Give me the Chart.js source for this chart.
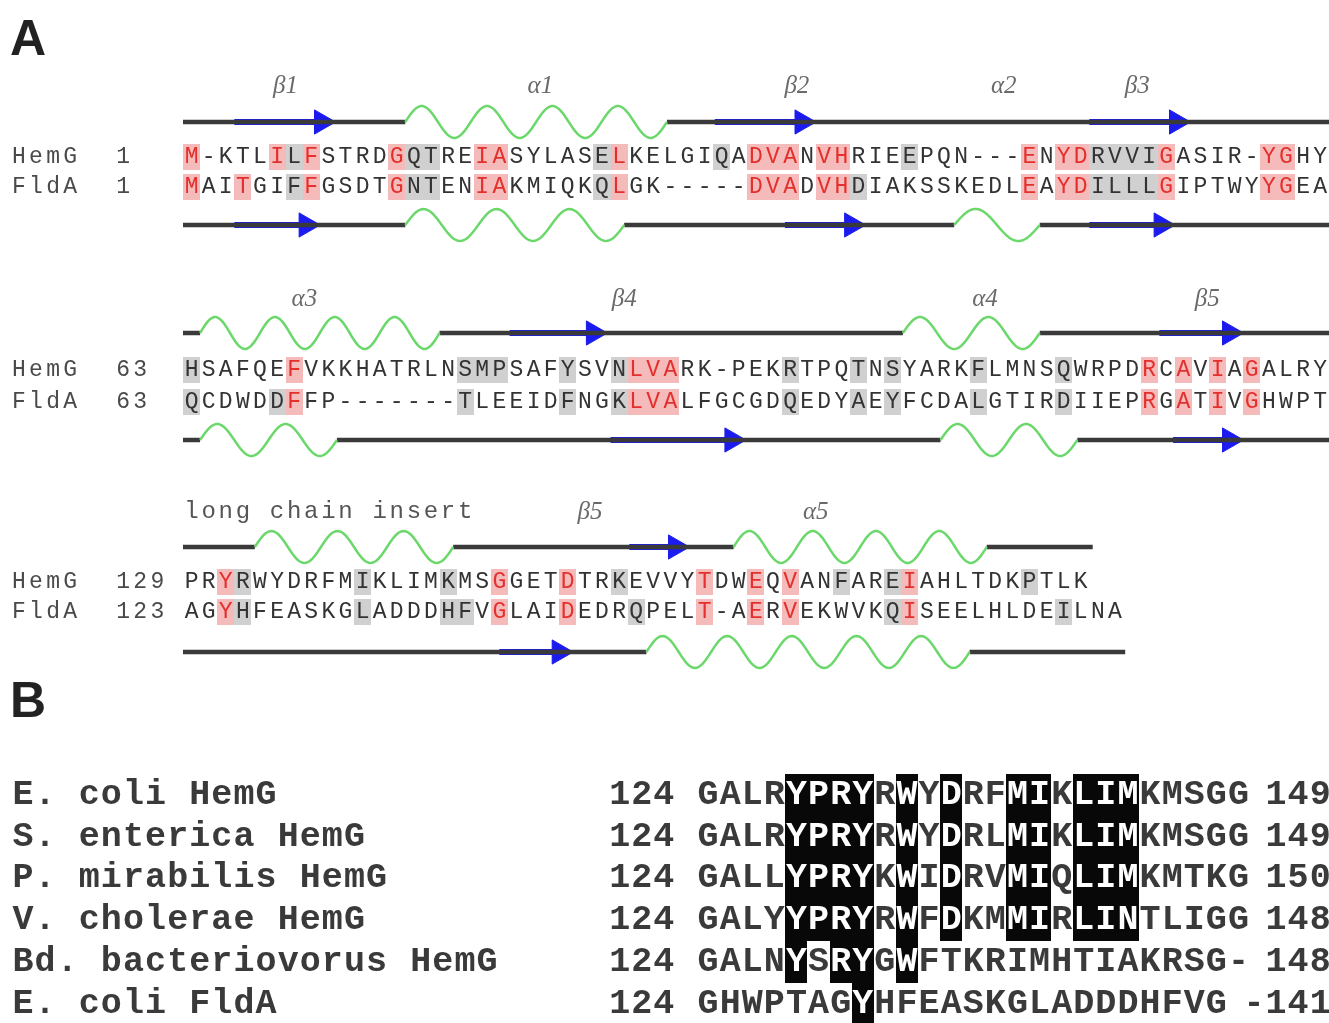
<!DOCTYPE html>
<html>
<head>
<meta charset="utf-8">
<script src="https://cdn.jsdelivr.net/npm/chart.js@4.4.1/dist/chart.umd.min.js"></script>
<style>
  html, body { margin: 0; padding: 0; background: #fff; }
  #wrap { width: 1329px; height: 1023px; }
  #fig { filter: blur(0.5px); }
</style>
</head>
<body>
<div id="wrap"><canvas id="fig"></canvas></div>
<script>
// ---- Panel A: HemG / FldA alignment, three blocks ----
const hemgSeq = [
    'M-KTLILFSTRDGQTREIASYLASELKELGIQADVANVHRIEEPQN---ENYDRVVIGASIR-YGHY',
    'HSAFQEFVKKHATRLNSMPSAFYSVNLVARK-PEKRTPQTNSYARKFLMNSQWRPDRCAVIAGALRY',
    'PRYRWYDRFMIKLIMKMSGGETDTRKEVVYTDWEQVANFAREIAHLTDKPTLK'
];
const fldaSeq = [
    'MAITGIFFGSDTGNTENIAKMIQKQLGK-----DVADVHDIAKSSKEDLEAYDILLLGIPTWYYGEA',
    'QCDWDDFFP-------TLEEIDFNGKLVALFGCGDQEDYAEYFCDALGTIRDIIEPRGATIVGHWPT',
    'AGYHFEASKGLADDDHFVGLAIDEDRQPELT-AERVEKWVKQISEELHLDEILNA'
];
const hemgStart = ['1', '63', '129'];
const fldaStart = ['1', '63', '123'];

// conserved (red) and similar (grey) columns
const hemgRed = [
    [0, 5, 7, 12, 17, 18, 25, 33, 34, 35, 37, 38, 49, 51, 52, 57, 63, 64],
    [6, 26, 27, 28, 56, 58, 60, 62],
    [2, 18, 22, 30, 33, 35, 42]
];
const hemgGray = [
    [6, 13, 14, 24, 31, 42, 53, 54, 55, 56],
    [0, 16, 17, 18, 22, 25, 35, 39, 41, 46, 51],
    [3, 10, 15, 25, 38, 41, 49]
];
const fldaRed = [
    [0, 3, 7, 12, 17, 18, 25, 33, 34, 35, 37, 38, 49, 51, 52, 57, 63, 64],
    [6, 26, 27, 28, 56, 58, 60, 62],
    [2, 18, 22, 30, 33, 35, 42]
];
const fldaGray = [
    [6, 13, 14, 24, 39, 53, 54, 55, 56],
    [0, 5, 16, 22, 25, 35, 39, 41, 46, 51],
    [3, 10, 15, 16, 26, 41, 51]
];

// secondary structure, in alignment columns [start, end]
const hemgStrands = [[[3, 8.9], [31.1, 37], [53, 58.9]], [[19.1, 24.8], [57.1, 62]], [[26.1, 29.6]]];
const hemgHelices = [[[13, 28.3]], [[1, 15], [42.1, 50.1]], [[4.2, 15.8], [32.2, 47]]];
const hemgTrackEnd = [67.1, 67.1, 53.2];
const fldaStrands = [[[3, 8], [35.2, 39.9], [53, 58]], [[25, 32.9], [57.9, 62]], [[18.5, 22.8]]];
const fldaHelices = [[[13, 25.8], [45.1, 50.1]], [[1, 9], [44.3, 52.3]], [[27.1, 46]]];
const fldaTrackEnd = [67.1, 67.1, 55.1];

const ssNames = [['β1', 'α1', 'β2', 'α2', 'β3'], ['α3', 'β4', 'α4', 'β5'], ['β5', 'α5']];
const ssNameCols = [[6, 20.9, 35.9, 48, 55.8], [7.1, 25.8, 46.9, 59.9], [23.8, 37]];

// ---- Panel B: long chain insert region ----
const speciesB = ['E. coli HemG', 'S. enterica HemG', 'P. mirabilis HemG', 'V. cholerae HemG', 'Bd. bacteriovorus HemG', 'E. coli FldA'];
const seqB = [
    'GALRYPRYRWYDRFMIKLIMKMSGG',
    'GALRYPRYRWYDRLMIKLIMKMSGG',
    'GALLYPRYKWIDRVMIQLIMKMTKG',
    'GALYYPRYRWFDKMMIRLINTLIGG',
    'GALNYSRYGWFTKRIMHTIAKRSG-',
    'GHWPTAGYHFEASKGLADDDHFVG'
];
const startB = ['124', '124', '124', '124', '124', '124'];
const endB = ['149', '149', '150', '148', '148', '-141'];
const endColB = [25.7, 25.7, 25.7, 25.7, 25.7, 24.7];
const blackB = [
    [4, 5, 6, 7, 9, 11, 14, 15, 17, 18, 19],
    [4, 5, 6, 7, 9, 11, 14, 15, 17, 18, 19],
    [4, 5, 6, 7, 9, 11, 14, 15, 17, 18, 19],
    [4, 5, 6, 7, 9, 11, 14, 15, 17, 18, 19],
    [4, 6, 7, 9],
    [7]
];

// layout (pixel rows on the y scale)
const blockRows = [
    { lab: 86, top: 122, hem: 157, fld: 187, bot: 225 },
    { lab: 299, top: 333, hem: 370, fld: 402, bot: 440 },
    { lab: 512, top: 547, hem: 582, fld: 612, bot: 652 }
];
const rowsB = [795, 837, 878, 920, 962, 1004];

const COL_A = 17.1, LEFT_A = 183;
const COL_B = 22.1, LEFT_B = 697;
const W = 1329, H = 1023;

const BLUE = '#1b1bef';
const GREEN = '#6cd86c';
const LINE = '#3a3a3a';

function trackPoints(end, helices, y) {
    const pts = [];
    let a = 0;
    helices.forEach(([s, e]) => {
        pts.push({ x: a, y: y }, { x: s, y: y }, { x: s, y: null });
        a = e;
    });
    pts.push({ x: a, y: y }, { x: end, y: y });
    return pts;
}

function strandPoints(strands, y) {
    const pts = [];
    strands.forEach(([s, e]) => {
        pts.push({ x: s, y: y }, { x: e - 0.8, y: y }, { x: e, y: null });
    });
    return pts;
}

const datasets = [];
blockRows.forEach((b, i) => {
    datasets.push({ type: 'line', data: trackPoints(hemgTrackEnd[i], hemgHelices[i], b.top), borderColor: LINE, borderWidth: 4.5, pointRadius: 0, spanGaps: false });
    datasets.push({ type: 'line', data: trackPoints(fldaTrackEnd[i], fldaHelices[i], b.bot), borderColor: LINE, borderWidth: 4.5, pointRadius: 0, spanGaps: false });
});
blockRows.forEach((b, i) => {
    [[hemgStrands[i], b.top], [fldaStrands[i], b.bot]].forEach(([st, yv]) => {
        datasets.push({
            type: 'line',
            data: strandPoints(st, yv),
            borderColor: BLUE,
            borderWidth: 6,
            spanGaps: false,
            pointStyle: 'triangle',
            rotation: 90,
            pointRadius: ctx => (ctx.dataIndex % 3 === 1 ? 14 : 0),
            pointBackgroundColor: BLUE,
            pointBorderColor: BLUE,
            pointBorderWidth: 1
        });
    });
});

function drawHelix(ctx, xs, s, e, yPix) {
    const x0 = xs.getPixelForValue(s), x1 = xs.getPixelForValue(e);
    const len = x1 - x0;
    const halves = Math.max(2, 2 * Math.round(len / 64));
    ctx.save();
    ctx.strokeStyle = GREEN;
    ctx.lineWidth = 2.5;
    ctx.beginPath();
    for (let k = 0; k <= 120; k++) {
        const t = k / 120;
        const px = x0 + t * len;
        const py = yPix - 16 * Math.sin(t * halves * Math.PI);
        if (k === 0) ctx.moveTo(px, py); else ctx.lineTo(px, py);
    }
    ctx.stroke();
    ctx.restore();
}

function drawChars(ctx, xs, yPix, str, startCol, colorAt) {
    for (let i = 0; i < str.length; i++) {
        if (str[i] === ' ') continue;
        const cx = xs.getPixelForValue(startCol + i + 0.5);
        ctx.fillStyle = colorAt ? colorAt(i) : '#333';
        ctx.fillText(str[i], cx, yPix);
    }
}

// boxes snapped to whole pixels so neighbouring cells join without seams
function shadeCols(ctx, xs, yPix, cols, color, h) {
    ctx.fillStyle = color;
    cols.forEach(c => {
        const a = Math.round(xs.getPixelForValue(c)), b = Math.round(xs.getPixelForValue(c + 1));
        ctx.fillRect(a, Math.round(yPix - h / 2), b - a, h);
    });
}

const alignmentPlugin = {
    id: 'alignment',
    beforeDatasetsDraw(chart) {
        const { ctx, scales } = chart;
        const xa = scales.x, xb = scales.xb, ys = scales.y;
        blockRows.forEach((b, i) => {
            const yh = ys.getPixelForValue(b.hem), yf = ys.getPixelForValue(b.fld);
            shadeCols(ctx, xa, yh, hemgGray[i], 'rgba(150,150,150,0.45)', 26);
            shadeCols(ctx, xa, yf, fldaGray[i], 'rgba(150,150,150,0.45)', 26);
            shadeCols(ctx, xa, yh, hemgRed[i], 'rgba(236,130,130,0.55)', 26);
            shadeCols(ctx, xa, yf, fldaRed[i], 'rgba(236,130,130,0.55)', 26);
        });
        // panel B black boxes
        rowsB.forEach((r, i) => {
            shadeCols(ctx, xb, ys.getPixelForValue(r), blackB[i], '#080808', 42);
        });
    },
    afterDatasetsDraw(chart) {
        const { ctx, scales } = chart;
        const xa = scales.x, xb = scales.xb, ys = scales.y;
        ctx.save();
        ctx.textAlign = 'center';
        ctx.textBaseline = 'middle';

        // helices
        blockRows.forEach((b, i) => {
            hemgHelices[i].forEach(([s, e]) => drawHelix(ctx, xa, s, e, ys.getPixelForValue(b.top)));
            fldaHelices[i].forEach(([s, e]) => drawHelix(ctx, xa, s, e, ys.getPixelForValue(b.bot)));
        });

        // panel letters
        ctx.font = 'bold 50px "Liberation Sans", Arial, sans-serif';
        ctx.fillStyle = '#222';
        ctx.textAlign = 'left';
        ctx.fillText('A', 10, ys.getPixelForValue(41));
        ctx.fillText('B', 10, ys.getPixelForValue(703));
        ctx.textAlign = 'center';

        // secondary structure names
        ctx.font = 'italic 25px "Liberation Serif", "DejaVu Serif", serif';
        ctx.fillStyle = '#6a6a6a';
        blockRows.forEach((b, i) => {
            ssNames[i].forEach((n, k) => {
                ctx.fillText(n, xa.getPixelForValue(ssNameCols[i][k]), ys.getPixelForValue(b.lab));
            });
        });
        ctx.font = '24px "Liberation Mono", monospace';
        drawChars(ctx, xa, ys.getPixelForValue(blockRows[2].lab), 'long chain insert', 0, () => '#555');

        // sequence rows
        ctx.font = '23px "Liberation Mono", monospace';
        blockRows.forEach((b, i) => {
            const yh = ys.getPixelForValue(b.hem), yf = ys.getPixelForValue(b.fld);
            drawChars(ctx, xa, yh, 'HemG', -10.1, () => '#4a4a4a');
            drawChars(ctx, xa, yf, 'FldA', -10.1, () => '#4a4a4a');
            drawChars(ctx, xa, yh, hemgStart[i], -4, () => '#4a4a4a');
            drawChars(ctx, xa, yf, fldaStart[i], -4, () => '#4a4a4a');
            drawChars(ctx, xa, yh, hemgSeq[i], 0, k => (hemgRed[i].includes(k) ? '#e3302c' : '#333'));
            drawChars(ctx, xa, yf, fldaSeq[i], 0, k => (fldaRed[i].includes(k) ? '#e3302c' : '#333'));
        });

        // panel B rows
        ctx.font = 'bold 35px "Liberation Mono", monospace';
        rowsB.forEach((r, i) => {
            const yp = ys.getPixelForValue(r);
            drawChars(ctx, xb, yp, speciesB[i], -31.0, () => '#3a3a3a');
            drawChars(ctx, xb, yp, startB[i], -4, () => '#3a3a3a');
            drawChars(ctx, xb, yp, seqB[i], 0, k => (blackB[i].includes(k) ? '#fff' : '#3a3a3a'));
            drawChars(ctx, xb, yp, endB[i], endColB[i], () => '#3a3a3a');
        });
        ctx.restore();
    }
};

new Chart(document.getElementById('fig'), {
    type: 'line',
    data: { datasets: datasets },
    options: {
        responsive: true,
        maintainAspectRatio: false,
        animation: false,
        events: [],
        layout: { padding: 0 },
        plugins: { legend: { display: false }, tooltip: { enabled: false } },
        elements: { line: { borderCapStyle: 'butt', tension: 0 } },
        scales: {
            x: { type: 'linear', display: false, min: -LEFT_A / COL_A, max: (W - LEFT_A) / COL_A },
            xb: { type: 'linear', display: false, min: -LEFT_B / COL_B, max: (W - LEFT_B) / COL_B },
            y: { type: 'linear', display: false, min: 0, max: H, reverse: true }
        }
    },
    plugins: [alignmentPlugin]
});
</script>
</body>
</html>
